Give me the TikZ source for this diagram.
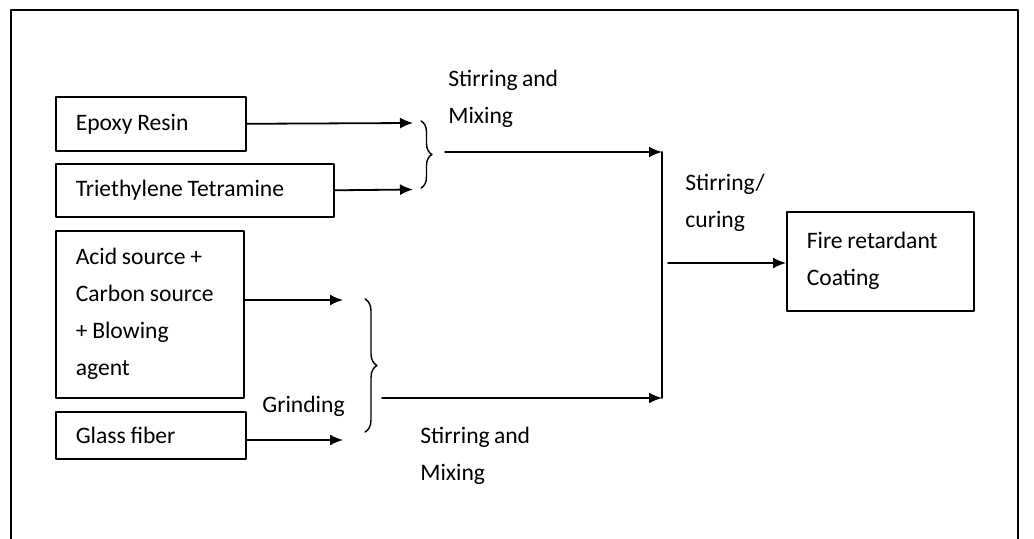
\documentclass[tikz,border=0pt]{standalone}
\usepackage{fontspec}
\setmainfont{Carlito}[WordSpace=0.8]
\usetikzlibrary{arrows.meta,decorations.pathreplacing}
\begin{document}
\begin{tikzpicture}[x=0.5pt,y=-0.5pt,line cap=round,line join=round,
  every node/.style={font=\fontsize{11.8}{18.5}\selectfont},
  stepbox/.style={draw,line width=0.8pt,align=left,anchor=north west,inner xsep=10pt,inner ysep=0pt,
    execute at begin node={\spaceskip=0.2em\relax}},
  feed/.style={-{Latex[length=6.5pt,width=5.5pt]},line width=0.9pt},
  gather/.style={decorate,decoration={brace,amplitude=#1},line width=0.7pt},
  note/.style={align=left,anchor=west,inner sep=0pt}]
  \useasboundingbox (0,0) rectangle (1034,539);
  \draw[line width=1pt] (11,10) rectangle (1018,600);
  \node[stepbox,text width=75pt,minimum height=27pt] (epoxy) at (55,96) {Epoxy Resin};
  \node[stepbox,text width=119pt,minimum height=26.5pt] (teta) at (55,163) {Triethylene Tetramine};
  \node[stepbox,text width=74pt,minimum height=83.5pt] (acid) at (55,230) {Acid source +\\Carbon source\\+ Blowing\\agent};
  \node[stepbox,text width=75pt,minimum height=23.5pt] (glass) at (55,411) {Glass fiber};
  \node[stepbox,text width=73.5pt,minimum height=49.5pt] (coat) at (786,211) {Fire retardant\\Coating};
  \coordinate (inA) at (413,123);
  \coordinate (inB) at (413,189.5);
  \coordinate (inC) at (343,300);
  \coordinate (inD) at (343,440);
  \draw[feed] (epoxy.east) -- (inA);
  \draw[feed] (teta.east) -- (inB);
  \draw[feed] (acid.east |- inC) -- (inC);
  \draw[feed] (glass.east |- inD) -- (inD);
  \draw[gather=5.5pt] (421,121) -- (421,188);
  \draw[gather=6pt] (365,299) -- (365,432);
  \coordinate (mixA) at (445,152);
  \coordinate (joinA) at (662,152);
  \coordinate (mixB) at (382,398);
  \coordinate (joinB) at (662,398);
  \coordinate (outS) at (668,263);
  \draw[feed] (mixA) -- (joinA);
  \draw[line width=0.9pt] (joinA) -- (joinB);
  \draw[feed] (mixB) -- (joinB);
  \draw[feed] (outS) -- (outS -| coat.west);
  \node[note] (mixtop) at (448,99) {Stirring and\\Mixing};
  \node[note] (grind) at (262,406) {Grinding};
  \node[note] (mixbot) at (420,456) {Stirring and\\Mixing};
  \node[note] (cure) at (685,203) {Stirring/\\curing};
\end{tikzpicture}
\end{document}
